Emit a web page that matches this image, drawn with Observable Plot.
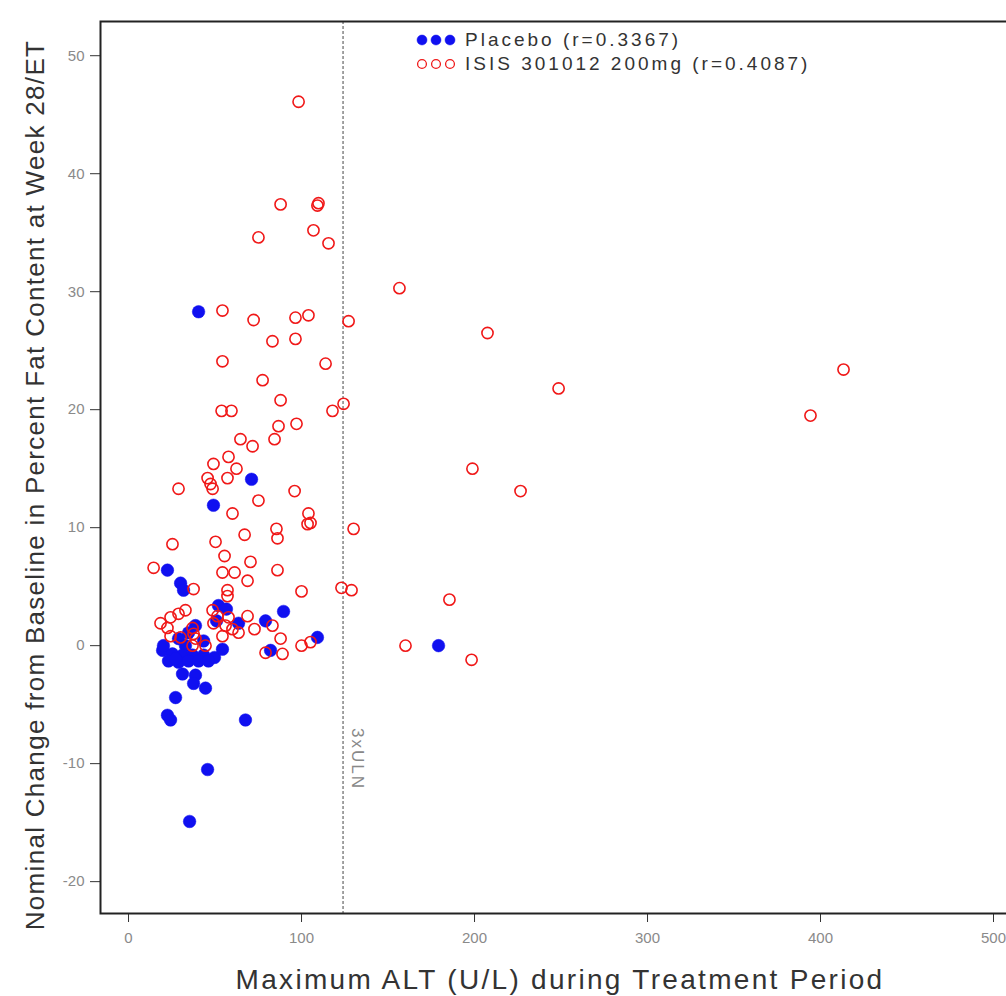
<!DOCTYPE html>
<html>
<head>
<meta charset="utf-8">
<script src="https://cdn.jsdelivr.net/npm/d3@7"></script>
<script src="https://cdn.jsdelivr.net/npm/@observablehq/plot@0.6"></script>
<style>
  html, body { margin: 0; padding: 0; background: #fff; }
  body { width: 1006px; height: 996px; overflow: hidden; font-family: "Liberation Sans", Arial, sans-serif; }
  #wrap { position: relative; width: 1006px; height: 996px; overflow: hidden; }
  #chart { position: absolute; left: 0; top: 0; width: 1020px; height: 996px; }
  #chart svg { max-width: none !important; }
  .ttl { position: absolute; color: #333; white-space: nowrap; font-family: "Liberation Sans", Arial, sans-serif; }
  #xtitle { left: 560px; top: 980px; transform: translate(-50%, -50%); font-size: 28px; letter-spacing: 2.3px; }
  #ytitle { left: 35px; top: 485px; transform: translate(-50%, -50%) rotate(-90deg); font-size: 26px; letter-spacing: 1.3px; }
  .leg { position: absolute; left: 415px; display: flex; align-items: center; font-size: 19px; color: #333; letter-spacing: 3px; white-space: nowrap; }
  .leg svg { margin-right: 4px; }
  .ulnlab { letter-spacing: 2px; }
</style>
</head>
<body>
<div id="wrap">
  <div id="chart"></div>
  <div class="ttl" id="xtitle">Maximum ALT (U/L) during Treatment Period</div>
  <div class="ttl" id="ytitle">Nominal Change from Baseline in Percent Fat Content at Week 28/ET</div>
  <div class="leg" style="top:29px"><svg width="46" height="14"></svg><span id="leg1"></span></div>
  <div class="leg" style="top:53px"><svg width="46" height="14"></svg><span id="leg2"></span></div>
</div>
<script>
// ---- data ----
const seriesNames = ["Placebo (r=0.3367)", "ISIS 301012 200mg (r=0.4087)"];
const uln3 = 124; // 3 x ULN reference line (U/L)
const uln3Label = "3xULN";
const xTicks = [0, 100, 200, 300, 400, 500];
const yTicks = [-20, -10, 0, 10, 20, 30, 40, 50];

// Placebo: [max ALT, change in % fat]
const placebo = [
  [40.5, 28.3], [71.1, 14.1], [49.1, 11.9], [179.2, 0.0], [45.7, -10.5], [35.3, -14.9],
  [109.2, 0.7], [89.6, 2.9], [79.2, 2.1], [82.1, -0.4], [67.6, -6.3], [22.5, 6.4],
  [30.1, 5.3], [31.8, 4.7], [52.0, 3.4], [56.6, 3.1], [50.9, 2.1], [63.6, 1.9],
  [28.9, 0.6], [34.7, 1.1], [38.7, 1.7], [32.9, 0.0], [19.7, -0.4], [25.4, -0.7],
  [31.2, -0.8], [37.0, -0.8], [43.4, -0.8], [49.7, -1.0], [23.1, -1.3], [28.9, -1.4],
  [34.7, -1.3], [40.5, -1.3], [46.2, -1.3], [54.3, -0.3], [27.2, -1.1], [31.2, -2.4],
  [38.7, -2.5], [37.6, -3.2], [44.5, -3.6], [27.2, -4.4], [22.5, -5.9], [24.3, -6.3],
  [43.4, 0.4], [20.2, 0.0]
];

// ISIS 301012 200mg: [max ALT, change in % fat]
const isis = [
  [98.3, 46.1], [87.9, 37.4], [109.2, 37.3], [109.8, 37.5], [106.9, 35.2], [75.1, 34.6],
  [115.6, 34.1], [156.6, 30.3], [207.5, 26.5], [54.3, 28.4], [72.3, 27.6], [96.5, 27.8],
  [104.0, 28.0], [127.2, 27.5], [83.2, 25.8], [96.5, 26.0], [54.3, 24.1], [113.9, 23.9],
  [77.5, 22.5], [248.6, 21.8], [413.3, 23.4], [87.9, 20.8], [124.3, 20.5], [53.8, 19.9],
  [59.5, 19.9], [117.9, 19.9], [394.2, 19.5], [86.7, 18.6], [97.1, 18.8], [64.7, 17.5],
  [71.7, 16.9], [84.4, 17.5], [57.8, 16.0], [49.1, 15.4], [62.4, 15.0], [45.7, 14.2],
  [47.4, 13.7], [48.6, 13.3], [57.2, 14.2], [28.9, 13.3], [96.0, 13.1], [198.8, 15.0],
  [226.6, 13.1], [75.1, 12.3], [60.1, 11.2], [104.0, 11.2], [105.2, 10.4], [103.5, 10.3],
  [130.1, 9.9], [67.1, 9.4], [85.5, 9.9], [86.1, 9.1], [25.4, 8.6], [50.3, 8.8],
  [55.5, 7.6], [70.5, 7.1], [14.5, 6.6], [54.3, 6.2], [61.3, 6.2], [86.1, 6.4],
  [68.8, 5.5], [37.6, 4.8], [57.2, 4.7], [57.2, 4.2], [100.0, 4.6], [123.1, 4.9],
  [128.9, 4.7], [185.5, 3.9], [160.1, 0.0], [198.3, -1.2],
  [18.5, 1.9], [24.3, 2.4], [28.9, 2.7], [32.9, 3.0], [22.5, 1.5], [30.1, 0.7],
  [37.0, 1.5], [37.6, 1.0], [38.7, 0.6], [37.0, 0.0], [44.5, 0.0], [48.6, 3.0],
  [51.4, 2.5], [49.1, 1.9], [56.1, 1.7], [54.3, 0.8], [68.8, 2.5], [72.8, 1.4],
  [83.2, 1.7], [87.9, 0.6], [79.2, -0.6], [89.0, -0.7], [100.0, 0.0], [105.2, 0.3],
  [60.1, 1.4], [63.6, 1.1], [57.8, 2.4], [24.3, 0.8]
];

const blue = "#1010f0";
const red = "#f01818";

const chart = Plot.plot({
  width: 1020,
  height: 996,
  marginLeft: 100,
  marginRight: 0,
  marginTop: 21,
  marginBottom: 83,
  style: { fontFamily: "Liberation Sans, Arial, sans-serif", background: "#fff", overflow: "visible", maxWidth: "none" },
  x: { domain: [-16.2, 515.6] },
  y: { domain: [-22.7, 52.9] },
  marks: [
    Plot.ruleX([uln3], { stroke: "#666", strokeWidth: 1.2, strokeDasharray: "3,2" }),
    Plot.text([uln3Label], { x: () => uln3, y: () => -9.6, dx: 14, rotate: 90, fill: "#888", fontSize: 17, className: "ulnlab", text: d => d }),
    Plot.dot(placebo, { x: d => d[0], y: d => d[1], r: 6.3, fill: blue, stroke: blue, strokeWidth: 0.5 }),
    Plot.dot(isis, { x: d => d[0], y: d => d[1], r: 5.6, fill: "none", stroke: red, strokeWidth: 1.6 }),
    Plot.axisY({ ticks: yTicks, tickFormat: d => String(d), tickSize: 10, tickPadding: 6, fontSize: 15, stroke: "#333", fill: "#8a8a8a", label: null }),
    Plot.axisX({ ticks: xTicks, tickFormat: d => String(d), tickSize: 9, tickPadding: 10, fontSize: 15, stroke: "#333", fill: "#8a8a8a", label: null }),
    Plot.frame({ stroke: "#222", strokeWidth: 2 })
  ]
});
chart.style.maxWidth = "none";
document.getElementById("chart").appendChild(chart);

// legend
document.getElementById("leg1").textContent = seriesNames[0];
document.getElementById("leg2").textContent = seriesNames[1];
const legSvgs = document.querySelectorAll(".leg svg");
const ns = "http://www.w3.org/2000/svg";
[[legSvgs[0], blue, true], [legSvgs[1], red, false]].forEach(([svg, c, filled]) => {
  [0, 1, 2].forEach(i => {
    const ci = document.createElementNS(ns, "circle");
    ci.setAttribute("cx", 7 + i * 14);
    ci.setAttribute("cy", 7);
    ci.setAttribute("r", filled ? 5 : 4.4);
    ci.setAttribute("fill", filled ? c : "none");
    ci.setAttribute("stroke", c);
    ci.setAttribute("stroke-width", filled ? 0.5 : 1.3);
    svg.appendChild(ci);
  });
});
</script>
</body>
</html>
